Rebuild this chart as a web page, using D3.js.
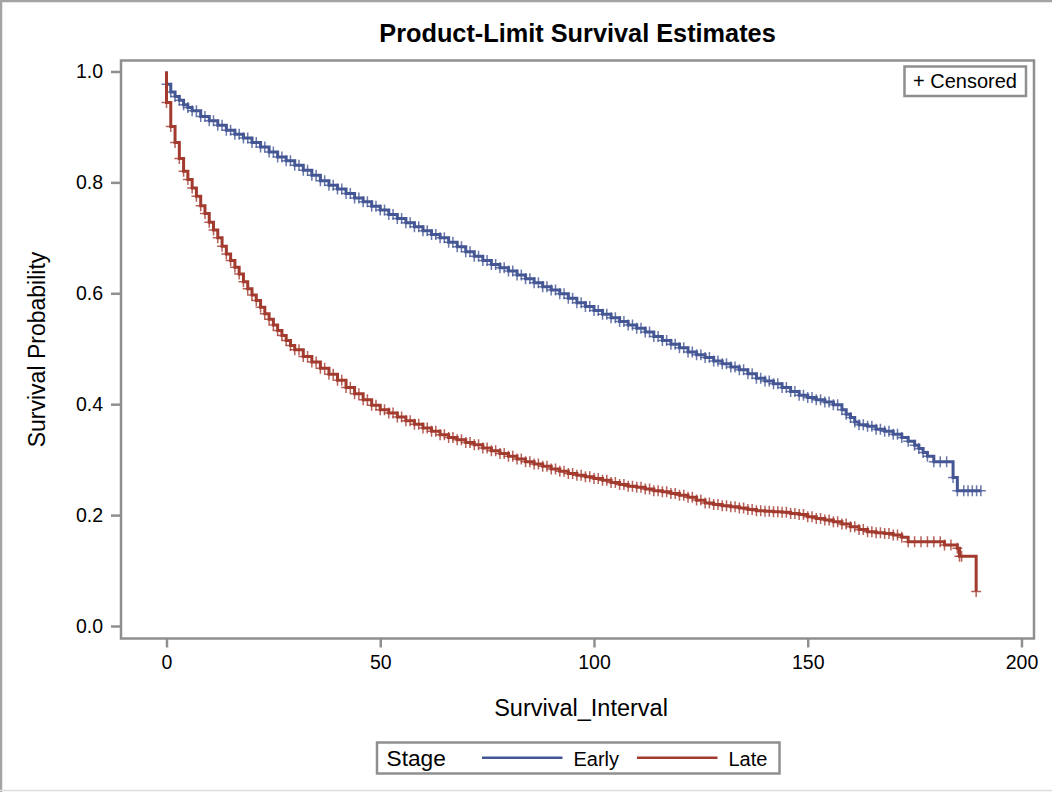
<!DOCTYPE html>
<html>
<head>
<meta charset="utf-8">
<script src="https://cdn.jsdelivr.net/npm/d3@7"></script>
<style>
  body { margin: 0; background: #fff; }
  text { font-family: "Liberation Sans", Arial, sans-serif; fill: #000; }
</style>
</head>
<body>
<div id="km-plot"></div>
<script>
// groups and their colours
var stages = ["Early", "Late"]
var stageColors = ["#445694", "#A23A2E"]

// Early stage: step times and survival estimate after each step
var earlyTime = [0, 0, 1, 2, 3, 4, 5, 6, 8, 10,
  12, 14, 16, 18, 20, 22, 24, 26, 28, 30,
  32, 34, 36, 38, 40, 42, 44, 46, 48, 50,
  52, 54, 56, 58, 60, 62, 64, 66, 68, 70,
  72, 74, 76, 78, 80, 82, 84, 86, 88, 90,
  92, 94, 96, 98, 100, 102, 104, 106, 108, 110,
  112, 114, 116, 118, 120, 122, 124, 126, 128, 130,
  132, 134, 136, 138, 140, 142, 144, 146, 148, 150,
  152, 154, 156, 158, 159, 160, 161, 162, 164, 166,
  168, 170, 172, 173.5, 175, 176, 177, 178, 179.5, 184,
  185, 190.5]
var earlySurv = [1, 0.977, 0.963, 0.955, 0.948, 0.940, 0.935, 0.929, 0.919, 0.911,
  0.903, 0.894, 0.887, 0.880, 0.872, 0.864, 0.855, 0.846, 0.839, 0.831,
  0.822, 0.813, 0.803, 0.795, 0.788, 0.780, 0.772, 0.765, 0.757, 0.750,
  0.742, 0.735, 0.727, 0.720, 0.713, 0.706, 0.700, 0.692, 0.684, 0.675,
  0.667, 0.659, 0.652, 0.646, 0.640, 0.633, 0.626, 0.619, 0.612, 0.606,
  0.599, 0.591, 0.583, 0.576, 0.569, 0.562, 0.556, 0.549, 0.543, 0.537,
  0.530, 0.522, 0.515, 0.508, 0.502, 0.494, 0.489, 0.484, 0.478, 0.473,
  0.467, 0.462, 0.455, 0.447, 0.442, 0.437, 0.430, 0.423, 0.416, 0.412,
  0.408, 0.404, 0.399, 0.390, 0.382, 0.376, 0.368, 0.363, 0.360, 0.355,
  0.351, 0.346, 0.340, 0.333, 0.326, 0.320, 0.313, 0.306, 0.296, 0.268,
  0.244, 0.244]
// extra censored times (between steps)
var earlyCensor = [7, 9, 11, 13, 15, 17, 19, 21, 23, 25, 27, 29, 31, 33, 35, 37, 39,
  41, 43, 45, 47, 49, 51, 53, 55, 57, 59, 61, 63, 65, 67, 69, 71, 73, 75, 77, 79,
  81, 83, 85, 87, 89, 91, 93, 95, 97, 99, 101, 103, 105, 107, 109, 111, 113, 115,
  117, 119, 121, 123, 125, 127, 129, 131, 133, 135, 137, 139, 141, 143, 145, 147,
  149, 151, 153, 155, 157, 163, 165, 167, 169, 171, 181, 182.5, 186.5, 187.5, 188.5, 189.5]

// Late stage
var lateTime = [0, 0, 1, 2, 3, 4, 5, 6, 7, 8,
  9, 10, 11, 12, 13, 14, 15, 16, 17, 18,
  19, 20, 21, 22, 23, 24, 25, 26, 27, 28,
  29, 30, 32, 34, 36, 38, 40, 42, 44, 46,
  48, 50, 52, 54, 56, 58, 60, 62, 64, 66,
  68, 70, 72, 74, 76, 78, 80, 82, 84, 86,
  88, 90, 92, 94, 96, 98, 100, 102, 104, 106,
  108, 110, 112, 114, 116, 118, 120, 122, 124, 126,
  128, 130, 132, 134, 136, 138, 140, 142, 144, 146,
  148, 150, 152, 154, 156, 158, 160, 162, 164, 166,
  168, 170, 172, 173.5, 182, 185, 185.5, 189.4]
var lateSurv = [1, 0.944, 0.901, 0.872, 0.843, 0.820, 0.805, 0.790, 0.775, 0.758,
  0.744, 0.728, 0.714, 0.700, 0.685, 0.671, 0.659, 0.647, 0.635, 0.621,
  0.608, 0.597, 0.587, 0.575, 0.563, 0.553, 0.543, 0.533, 0.524, 0.515,
  0.506, 0.498, 0.486, 0.476, 0.465, 0.454, 0.443, 0.430, 0.419, 0.408,
  0.398, 0.390, 0.384, 0.377, 0.370, 0.364, 0.357, 0.351, 0.345, 0.340,
  0.336, 0.331, 0.327, 0.321, 0.316, 0.311, 0.306, 0.301, 0.296, 0.292,
  0.288, 0.283, 0.279, 0.275, 0.272, 0.269, 0.266, 0.263, 0.259, 0.255,
  0.252, 0.250, 0.247, 0.244, 0.242, 0.239, 0.236, 0.232, 0.227, 0.222,
  0.219, 0.217, 0.215, 0.213, 0.210, 0.208, 0.207, 0.206, 0.205, 0.203,
  0.201, 0.197, 0.194, 0.191, 0.188, 0.184, 0.179, 0.174, 0.170, 0.168,
  0.167, 0.164, 0.160, 0.152, 0.146, 0.140, 0.126, 0.062]
var lateCensor = [31, 33, 35, 37, 39, 41, 43, 45, 47, 49, 51, 53, 55, 57, 59, 61,
  63, 65, 67, 69, 71, 73, 75, 77, 79, 81, 83, 85, 87, 89, 91, 93, 95, 97, 99, 101,
  103, 105, 107, 109, 111, 113, 115, 117, 119, 121, 123, 125, 127, 129, 131, 133,
  135, 137, 139, 141, 143, 145, 147, 149, 151, 153, 155, 157, 159, 161, 163, 165,
  167, 169, 171, 175, 176.5, 178, 179.5, 181, 183.5, 186]

// tick labels
var xTicks = [0, 50, 100, 150, 200]
var yTicks = [0.0, 0.2, 0.4, 0.6, 0.8, 1.0]

// set the dimensions of the page and the plot area
var width = 1052
    height = 792
    plotLeft = 121, plotTop = 60.5, plotRight = 1034, plotBottom = 638.5
var frameGrey = "#8f8f8f"

var svg = d3.select("#km-plot")
  .append("svg")
    .attr("width", width)
    .attr("height", height)

// outer frame of the output (top / left edges, faint bottom)
svg.append("line").attr("x1", 0).attr("x2", width).attr("y1", 1).attr("y2", 1)
  .attr("stroke", "#a3a3a3").attr("stroke-width", 2.5)
svg.append("line").attr("x1", 1).attr("x2", 1).attr("y1", 0).attr("y2", height)
  .attr("stroke", "#a3a3a3").attr("stroke-width", 2.5)
svg.append("line").attr("x1", 0).attr("x2", width).attr("y1", 790.5).attr("y2", 790.5)
  .attr("stroke", "#dedede").attr("stroke-width", 1.5)

// scales: 0 -> 166.5px, 200 -> 1021.5px ; 1 -> 71.5px, 0 -> 626px
var x = d3.scaleLinear().domain([-10.643, 202.93]).range([plotLeft, plotRight])
var y = d3.scaleLinear().domain([1.0198, -0.02254]).range([plotTop, plotBottom])

// axes
svg.append("g")
  .attr("transform", "translate(0," + plotBottom + ")")
  .call(d3.axisBottom(x).tickValues(xTicks).tickSize(9).tickPadding(8).tickFormat(d3.format("d")))
  .call(function(g) {
    g.select(".domain").remove()
    g.selectAll("line").attr("stroke", frameGrey).attr("stroke-width", 2.5)
    g.selectAll("text").attr("font-size", "19.5px").attr("font-family", null).attr("fill", "#000")
  })

svg.append("g")
  .attr("transform", "translate(" + plotLeft + ",0)")
  .call(d3.axisLeft(y).tickValues(yTicks).tickSize(10).tickPadding(8).tickFormat(d3.format(".1f")))
  .call(function(g) {
    g.select(".domain").remove()
    g.selectAll("line").attr("stroke", frameGrey).attr("stroke-width", 2.5)
    g.selectAll("text").attr("font-size", "19.5px").attr("font-family", null).attr("fill", "#000")
  })

// axis labels and title
svg.append("text")
  .attr("x", (plotLeft + plotRight) / 2).attr("y", 42)
  .attr("text-anchor", "middle")
  .attr("font-size", "25.3px").attr("font-weight", "bold")
  .text("Product-Limit Survival Estimates")

svg.append("text")
  .attr("x", 581).attr("y", 716)
  .attr("text-anchor", "middle")
  .attr("font-size", "23.5px")
  .text("Survival_Interval")

svg.append("text")
  .attr("transform", "translate(45," + (plotTop + plotBottom) / 2 + ") rotate(-90)")
  .attr("text-anchor", "middle")
  .attr("font-size", "23px")
  .text("Survival Probability")

// step line for each group
var series = [
  { name: stages[0], color: stageColors[0], time: earlyTime, surv: earlySurv, censor: earlyCensor },
  { name: stages[1], color: stageColors[1], time: lateTime, surv: lateSurv, censor: lateCensor }
]

var line = d3.line()
  .x(function(d) { return x(d[0]) })
  .y(function(d) { return y(d[1]) })
  .curve(d3.curveStepAfter)

var plot = svg.append("g")

series.forEach(function(s) {
  var pts = s.time.map(function(t, i) { return [t, s.surv[i]] })

  // censored marks: every step point (after the start) and the extra censored times
  var marks = pts.slice(1)
  s.censor.forEach(function(t) {
    var i = d3.bisectRight(s.time, t) - 1
    marks.push([t, s.surv[i]])
  })

  plot.append("g")
    .selectAll("path")
    .data(marks)
    .enter()
    .append("path")
      .attr("d", function(d) {
        var cx = x(d[0]), cy = y(d[1])
        return "M" + (cx - 5) + "," + cy + "H" + (cx + 5) + "M" + cx + "," + (cy - 5.5) + "V" + (cy + 5.5)
      })
      .attr("stroke", s.color)
      .attr("stroke-opacity", 0.8)
      .attr("stroke-width", 1.5)
      .attr("fill", "none")

  plot.append("path")
    .datum(pts)
    .attr("d", line)
    .attr("fill", "none")
    .attr("stroke", s.color)
    .attr("stroke-width", 3)
})

// plot frame
svg.append("rect")
  .attr("x", plotLeft).attr("y", plotTop)
  .attr("width", plotRight - plotLeft).attr("height", plotBottom - plotTop)
  .attr("fill", "none")
  .attr("stroke", frameGrey)
  .attr("stroke-width", 2.5)

// "+ Censored" inset
svg.append("rect")
  .attr("x", 904.5).attr("y", 66.5).attr("width", 121.5).attr("height", 29.5)
  .attr("fill", "#fff").attr("stroke", frameGrey).attr("stroke-width", 2.5)
svg.append("text")
  .attr("x", 965).attr("y", 88)
  .attr("text-anchor", "middle")
  .attr("font-size", "20px")
  .text("+ Censored")

// legend at the bottom
var legend = svg.append("g")
legend.append("rect")
  .attr("x", 377).attr("y", 742.5).attr("width", 402.5).attr("height", 31)
  .attr("fill", "#fff").attr("stroke", frameGrey).attr("stroke-width", 2.5)
legend.append("text")
  .attr("x", 386.5).attr("y", 766)
  .attr("font-size", "22.7px")
  .text("Stage")

var legendX = [482, 637]
legend.selectAll("legendLines")
  .data(series)
  .enter()
  .append("line")
    .attr("x1", function(d, i) { return legendX[i] })
    .attr("x2", function(d, i) { return legendX[i] + 80.5 })
    .attr("y1", 757.8).attr("y2", 757.8)
    .attr("stroke", function(d) { return d.color })
    .attr("stroke-width", 2.4)
legend.selectAll("legendLabels")
  .data(series)
  .enter()
  .append("text")
    .attr("x", function(d, i) { return legendX[i] + 91.5 })
    .attr("y", 765.5)
    .attr("font-size", "20px")
    .text(function(d) { return d.name })
</script>
</body>
</html>
